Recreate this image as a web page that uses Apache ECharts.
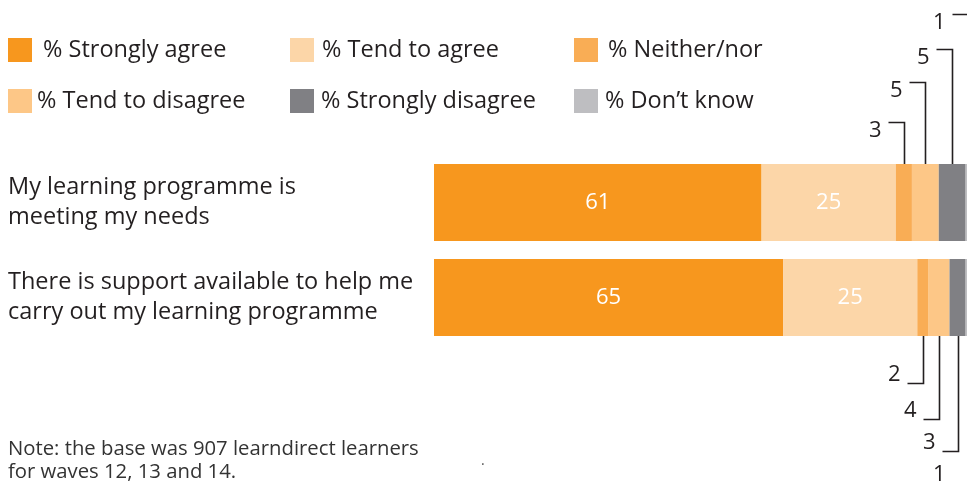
<!DOCTYPE html>
<html>
<head>
<meta charset="utf-8">
<script src="https://cdn.jsdelivr.net/npm/echarts@6/dist/echarts.min.js"></script>
<style>
  html, body { margin: 0; padding: 0; background: #ffffff; }
  #chart { width: 967px; height: 481px; }
</style>
</head>
<body>
<div id="chart"></div>
<script>
// Survey statements (top to bottom)
const categories = [
  'My learning programme is\nmeeting my needs',
  'There is support available to help me\ncarry out my learning programme'
];

// Response shares, one array per answer, one value per statement
const seriesNames = [
  '% Strongly agree', '% Tend to agree', '% Neither/nor',
  '% Tend to disagree', '% Strongly disagree', '% Don\u2019t know'
];
const stronglyAgree    = [61, 65];
const tendToAgree      = [25, 25];
const neitherNor       = [3, 2];
const tendToDisagree   = [5, 4];
const stronglyDisagree = [5, 3];
const dontKnow         = [1, 1];

const noteLines = [
  'Note: the base was 907 learndirect learners',
  'for waves 12, 13 and 14.'
];

// ---- styling / layout ----
const COLORS = ['#F7971E', '#FCD6A8', '#F9AD55', '#FDC787', '#808084', '#BEBEC1'];
const TEXT = '#231F20';
const FONT = '"Open Sans", "Noto Sans", sans-serif';
const BIG = 23.5;
const BAR_W = 77;
const GRID = { left: 434, top: 155, width: 537, height: 190, outerBoundsMode: 'none', containLabel: false };
// callout elbow heights (px from the bar edge) per small answer
const TOP_LEVELS = [42, 82, 115, 150];
const BOTTOM_LEVELS = [47, 83, 115, 147];
const TICK = 16;
// legend slots: [left, top, extra gap between swatch and text]
const LEGEND_SLOTS = [
  [8, 37, 6], [290, 37, 3], [574, 37, 5],
  [8, 88, 0], [290, 88, 2], [574, 88, 2]
];

const values = [stronglyAgree, tendToAgree, neitherNor, tendToDisagree, stronglyDisagree, dontKnow];

// Callout items for the narrow segments: [statement, segment start, value, rank]
const calloutData = [];
for (let s = 2; s < values.length; s++) {
  for (let c = 0; c < categories.length; c++) {
    let start = 0;
    for (let k = 0; k < s; k++) start += values[k][c];
    calloutData.push([c, start, values[s][c], s - 2]);
  }
}

function renderCallout(params, api) {
  const cat = api.value(0);
  const start = api.value(1);
  const val = api.value(2);
  const rank = api.value(3);
  const p = api.coord([start + val / 2, cat]);
  const x = Math.round(p[0]) + 0.5;
  const up = cat === 0;
  const edge = up ? p[1] - BAR_W / 2 : p[1] + BAR_W / 2;
  const ly = Math.round(up ? edge - TOP_LEVELS[rank] : edge + BOTTOM_LEVELS[rank]) + 0.5;
  return {
    type: 'group',
    children: [
      {
        type: 'polyline',
        shape: { points: [[x, edge], [x, ly], [x - TICK, ly]] },
        style: { stroke: TEXT, lineWidth: 1.6, fill: null }
      },
      {
        type: 'text',
        style: {
          text: String(val),
          x: x - TICK - 7,
          y: up ? ly + 8 : ly - 9,
          align: 'right',
          verticalAlign: 'middle',
          fontFamily: FONT,
          fontSize: 22,
          fill: TEXT
        }
      }
    ]
  };
}

const series = values.map((arr, i) => ({
  name: seriesNames[i],
  type: 'bar',
  stack: 'total',
  barWidth: BAR_W,
  data: arr,
  itemStyle: { color: COLORS[i] },
  label: {
    show: i < 2,
    position: 'inside',
    color: '#ffffff',
    fontFamily: FONT,
    fontSize: 22
  },
  emphasis: { disabled: true },
  silent: true
}));

series.push({
  type: 'custom',
  renderItem: renderCallout,
  encode: { x: 1, y: 0 },
  data: calloutData,
  clip: false,
  silent: true,
  z: 5
});

const legends = seriesNames.map((name, i) => ({
  data: [name],
  left: LEGEND_SLOTS[i][0],
  top: LEGEND_SLOTS[i][1] + 1,
  padding: 0,
  icon: 'rect',
  itemWidth: 24,
  itemHeight: 24,
  selectedMode: false,
  textStyle: {
    fontFamily: FONT,
    fontSize: BIG,
    color: TEXT,
    padding: [0, 0, 0, LEGEND_SLOTS[i][2]]
  }
}));

const chart = echarts.init(document.getElementById('chart'), null, { renderer: 'canvas' });
chart.setOption({
  animation: false,
  backgroundColor: '#ffffff',
  grid: GRID,
  legend: legends,
  xAxis: {
    type: 'value',
    min: 0,
    max: 100,
    show: false
  },
  yAxis: {
    type: 'category',
    data: categories,
    inverse: true,
    axisLine: { show: false },
    axisTick: { show: false },
    splitLine: { show: false },
    axisLabel: {
      align: 'left',
      margin: GRID.left - 8,
      fontFamily: FONT,
      fontSize: BIG,
      lineHeight: 30,
      color: TEXT
    }
  },
  graphic: [
    {
      type: 'text',
      left: 8,
      top: 438,
      style: {
        text: noteLines.join('\n'),
        fontFamily: FONT,
        fontSize: 20.3,
        lineHeight: 23,
        fill: '#333333'
      }
    },
    {
      type: 'text',
      left: 481,
      top: 454,
      style: { text: '.', fontFamily: FONT, fontSize: 14, fill: '#555555' }
    }
  ],
  series: series
});
</script>
</body>
</html>
